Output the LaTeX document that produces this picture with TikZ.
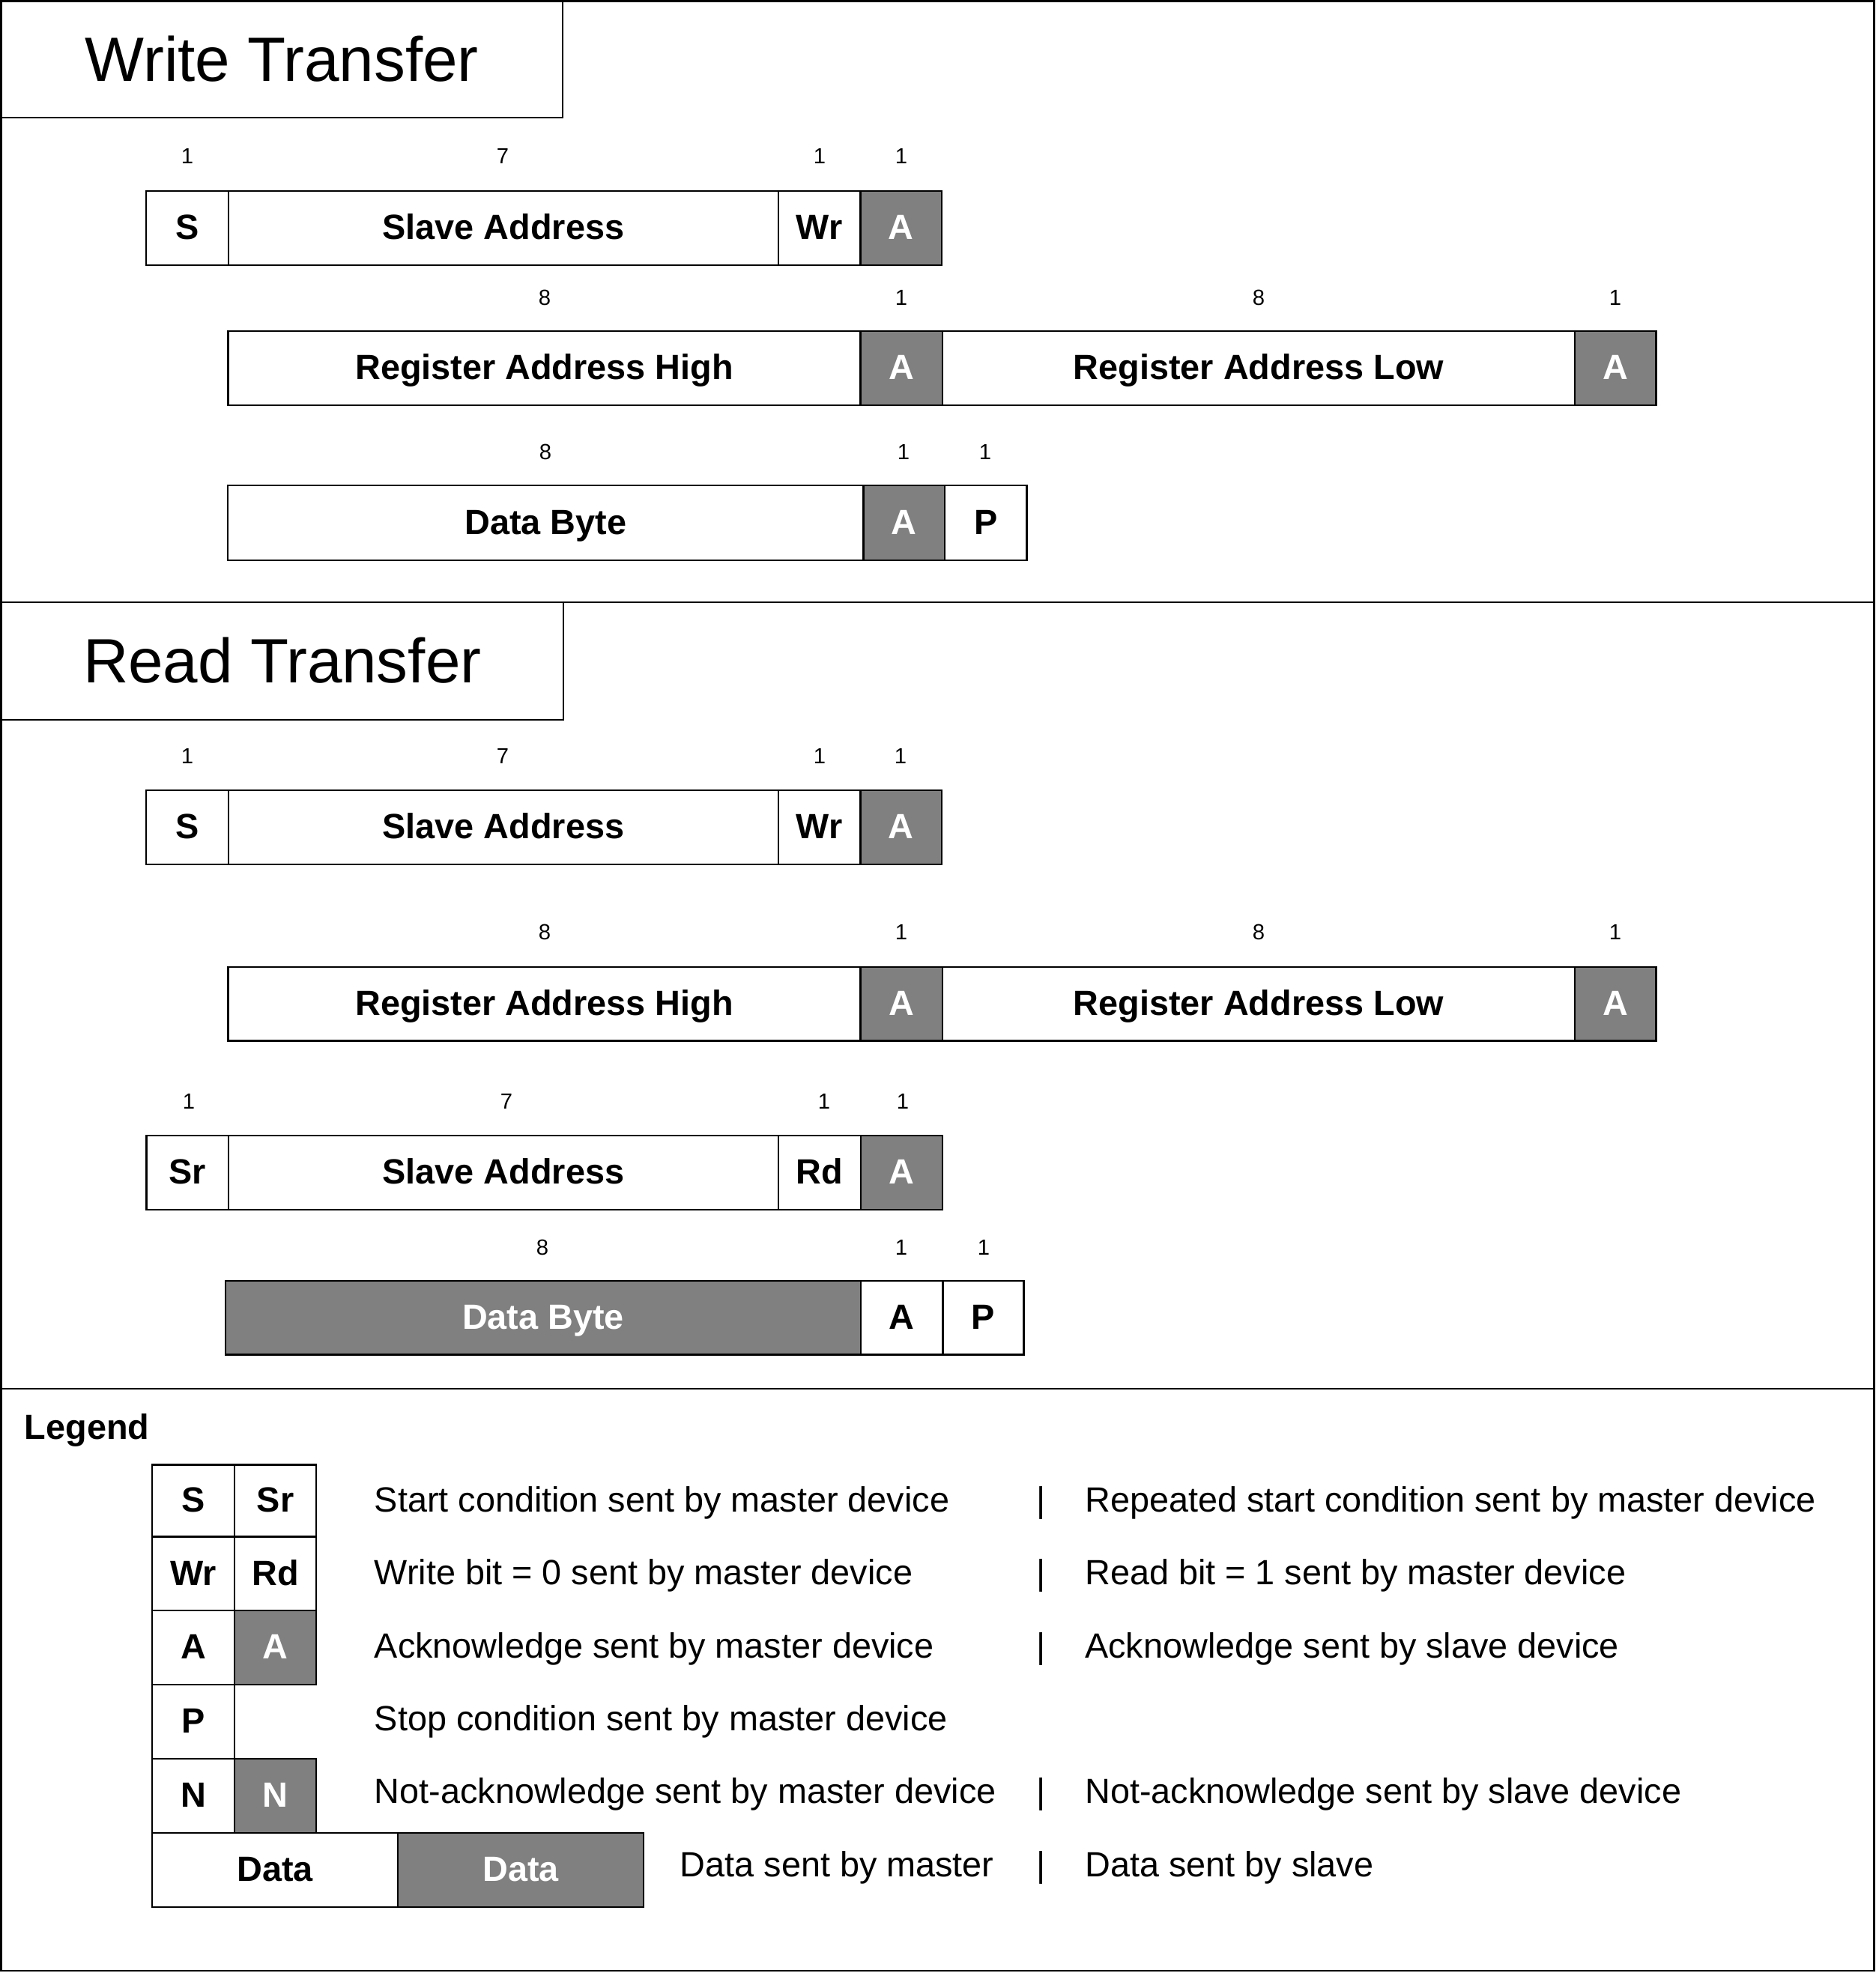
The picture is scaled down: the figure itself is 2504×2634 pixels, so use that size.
\documentclass[tikz,border=0pt]{standalone}
\usepackage{fontspec}
\setmainfont{Liberation Sans}
\definecolor{cellgray}{RGB}{128,128,128}
\newcommand{\bitcell}[7]{%
  \node[#2, minimum width={(#5-#3)*0.25pt}, minimum height={(#6-#4)*0.25pt}] (#1) at ({(#3+#5)/2},{(#4+#6)/2}) {#7};}
\tikzset{
  frame/.style={draw=black, line width=0.6pt},
  cellw/.style={draw=black, line width=0.6pt, fill=white, inner sep=0pt, outer sep=0pt,
    font=\fontsize{11.7}{13}\selectfont\bfseries, text height=7.7pt, text depth=0pt},
  cellg/.style={cellw, fill=cellgray, text=white},
  titlebox/.style={draw=black, line width=0.6pt, fill=white, inner sep=0pt, outer sep=0pt,
    font=\fontsize{20.9}{24}\selectfont, text height=14.5pt, text depth=0pt},
  lbl/.style={inner sep=0pt, font=\fontsize{7.3}{9}\selectfont, text height=5.2pt, text depth=0pt},
  legtxt/.style={anchor=west, inner sep=0pt, font=\fontsize{11.7}{13}\selectfont, text height=8.3pt, text depth=0pt},
  legbar/.style={legtxt, anchor=center},
  legtitle/.style={legtxt, font=\fontsize{11.7}{13}\selectfont\bfseries},
}
\begin{document}
\begin{tikzpicture}[x=0.25pt, y=-0.25pt]
\useasboundingbox (0,0) rectangle (2504,2634);
% section frames
\draw[frame] (1.5,1.5) rectangle (2501.5,804);
\draw[frame] (1.5,804) rectangle (2501.5,1854);
\draw[frame] (1.5,1854) rectangle (2501.5,2631);

% ===== Write Transfer =====
\bitcell{wtitle}{titlebox}{1.5}{1.5}{751}{157}{Write Transfer}
% row 1
\bitcell{w1s}{cellw}{195}{255}{305}{354}{S}
\bitcell{w1sa}{cellw}{305}{255}{1039}{354}{Slave Address}
\bitcell{w1wr}{cellw}{1039}{255}{1148.5}{354}{Wr}
\bitcell{w1a}{cellg}{1148.5}{255}{1257}{354}{A}
\node[lbl] (w1l1) at (250,208) {1};
\node[lbl] (w1l2) at (671,208) {7};
\node[lbl] (w1l3) at (1094,208) {1};
\node[lbl] (w1l4) at (1203,208) {1};
% row 2
\bitcell{w2rah}{cellw}{304.5}{442}{1148.5}{541}{Register Address High}
\bitcell{w2a1}{cellg}{1148.5}{442}{1258}{541}{A}
\bitcell{w2ral}{cellw}{1258}{442}{2102}{541}{Register Address Low}
\bitcell{w2a2}{cellg}{2102}{442}{2210.5}{541}{A}
\node[lbl] (w2l1) at (727,397) {8};
\node[lbl] (w2l2) at (1203,397) {1};
\node[lbl] (w2l3) at (1680,397) {8};
\node[lbl] (w2l4) at (2156,397) {1};
% row 3
\bitcell{w3d}{cellw}{304}{648}{1152.5}{748}{Data Byte}
\bitcell{w3a}{cellg}{1152.5}{648}{1261}{748}{A}
\bitcell{w3p}{cellw}{1261}{648}{1370.5}{748}{P}
\node[lbl] (w3l1) at (728,603) {8};
\node[lbl] (w3l2) at (1206,603) {1};
\node[lbl] (w3l3) at (1315,603) {1};

% ===== Read Transfer =====
\bitcell{rtitle}{titlebox}{1.5}{804}{752}{961}{Read Transfer}
% row 1
\bitcell{r1s}{cellw}{195}{1055}{305}{1154}{S}
\bitcell{r1sa}{cellw}{305}{1055}{1039}{1154}{Slave Address}
\bitcell{r1wr}{cellw}{1039}{1055}{1148.5}{1154}{Wr}
\bitcell{r1a}{cellg}{1148.5}{1055}{1257}{1154}{A}
\node[lbl] (r1l1) at (250,1009) {1};
\node[lbl] (r1l2) at (671,1009) {7};
\node[lbl] (r1l3) at (1094,1009) {1};
\node[lbl] (r1l4) at (1202,1009) {1};
% row 2
\bitcell{r2rah}{cellw}{304.5}{1291}{1148.5}{1389.5}{Register Address High}
\bitcell{r2a1}{cellg}{1148.5}{1291}{1258}{1389.5}{A}
\bitcell{r2ral}{cellw}{1258}{1291}{2102}{1389.5}{Register Address Low}
\bitcell{r2a2}{cellg}{2102}{1291}{2210.5}{1389.5}{A}
\node[lbl] (r2l1) at (727,1244) {8};
\node[lbl] (r2l2) at (1203,1244) {1};
\node[lbl] (r2l3) at (1680,1244) {8};
\node[lbl] (r2l4) at (2156,1244) {1};
% row 3
\bitcell{r3sr}{cellw}{195.5}{1516}{305}{1615}{Sr}
\bitcell{r3sa}{cellw}{305}{1516}{1039}{1615}{Slave Address}
\bitcell{r3rd}{cellw}{1039}{1516}{1149}{1615}{Rd}
\bitcell{r3a}{cellg}{1149}{1516}{1258}{1615}{A}
\node[lbl] (r3l1) at (252,1470) {1};
\node[lbl] (r3l2) at (676,1470) {7};
\node[lbl] (r3l3) at (1100,1470) {1};
\node[lbl] (r3l4) at (1205,1470) {1};
% row 4
\bitcell{r4d}{cellg}{301}{1710}{1149}{1808.5}{Data Byte}
\bitcell{r4a}{cellw}{1149}{1710}{1258.5}{1808.5}{A}
\bitcell{r4p}{cellw}{1258.5}{1710}{1366.5}{1808.5}{P}
\node[lbl] (r4l1) at (724,1665) {8};
\node[lbl] (r4l2) at (1203,1665) {1};
\node[lbl] (r4l3) at (1313,1665) {1};

% ===== Legend =====
\node[legtitle] (legend) at (32,1905) {Legend};
\bitcell{ls}{cellw}{203}{1955.5}{313}{2051.5}{S}
\bitcell{lsr}{cellw}{313}{1955.5}{422}{2051.5}{Sr}
\bitcell{lwr}{cellw}{203}{2051.5}{313}{2150}{Wr}
\bitcell{lrd}{cellw}{313}{2051.5}{422}{2150}{Rd}
\bitcell{lam}{cellw}{203}{2150}{313}{2249}{A}
\bitcell{las}{cellg}{313}{2150}{422}{2249}{A}
\bitcell{lp}{cellw}{203}{2249}{313}{2348}{P}
\bitcell{lnm}{cellw}{203}{2348}{313}{2447}{N}
\bitcell{lns}{cellg}{313}{2348}{422}{2447}{N}
\bitcell{ldm}{cellw}{203}{2447}{531}{2546}{Data}
\bitcell{lds}{cellg}{531}{2447}{859}{2546}{Data}

\node[legtxt] (t1l) at (499,2002) {Start condition sent by master device};
\node[legbar] (b1) at (1390,2002) {|};
\node[legtxt] (t1r) at (1447.5,2002) {Repeated start condition sent by master device};
\node[legtxt] (t2l) at (499,2099) {Write bit = 0 sent by master device};
\node[legbar] (b2) at (1390,2099) {|};
\node[legtxt] (t2r) at (1447.5,2099) {Read bit = 1 sent by master device};
\node[legtxt] (t3l) at (499,2196.5) {Acknowledge sent by master device};
\node[legbar] (b3) at (1390,2196.5) {|};
\node[legtxt] (t3r) at (1447.5,2196.5) {Acknowledge sent by slave device};
\node[legtxt] (t4l) at (499,2294) {Stop condition sent by master device};
\node[legtxt] (t5l) at (499,2391) {Not-acknowledge sent by master device};
\node[legbar] (b5) at (1390,2391) {|};
\node[legtxt] (t5r) at (1447.5,2391) {Not-acknowledge sent by slave device};
\node[legtxt] (t6l) at (907,2489) {Data sent by master};
\node[legbar] (b6) at (1390,2489) {|};
\node[legtxt] (t6r) at (1447.5,2489) {Data sent by slave};
\end{tikzpicture}
\end{document}
